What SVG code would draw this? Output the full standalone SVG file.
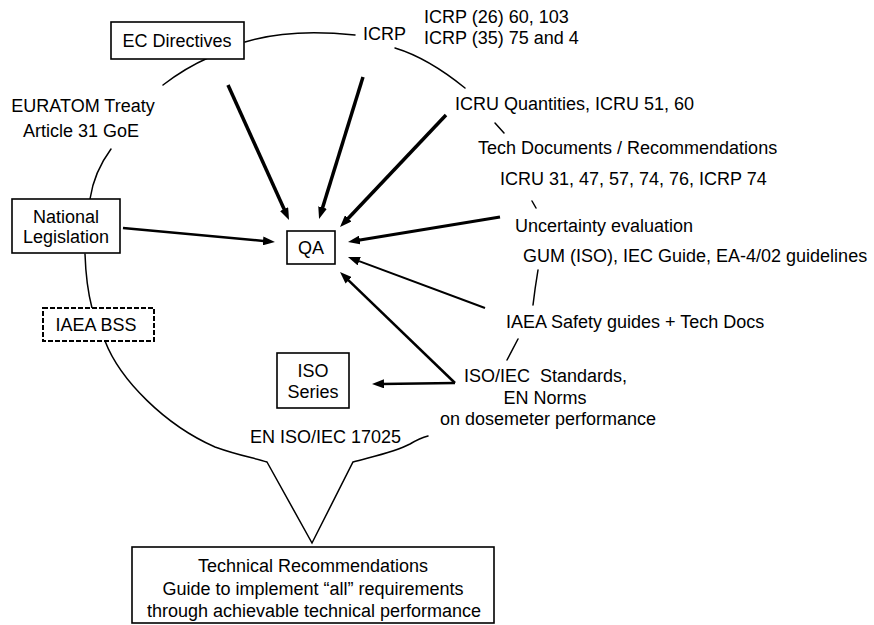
<svg xmlns="http://www.w3.org/2000/svg" width="874" height="625" viewBox="0 0 874 625">
<style>
text{font-family:"Liberation Sans",Arial,sans-serif;font-size:18px;fill:#000}
.c{text-anchor:middle}
.box{fill:#fff;stroke:#000;stroke-width:1.6}
.dash{fill:#fff;stroke:#000;stroke-width:2;stroke-dasharray:5 2}
.arc{fill:none;stroke:#000;stroke-width:1.5;stroke-linecap:round}
.arr{fill:none;stroke:#000;marker-end:url(#ah)}
</style>
<defs>
<marker id="ah" markerUnits="userSpaceOnUse" markerWidth="12" markerHeight="9" refX="3" refY="4.5" orient="auto">
<path d="M0,0 L12,4.5 L0,9 Z" fill="#000"/>
</marker>
</defs>
<rect width="874" height="625" fill="#fff"/>
<g id="connectors">
<path class="arc" d="M245,42 Q290,28 355,35"/>
<path class="arc" d="M395,48 Q428,58 465,88"/>
<path class="arc" d="M210,57 Q185,68 163,85"/>
<path class="arc" d="M111,149 Q94,172 90,199"/>
<path class="arc" d="M85,254 Q86,285 92,308"/>
<path class="arc" d="M105,341 C120,380 165,425 215,447 C240,456 255,458 267,462 L312,543 L353,462 C375,456 395,452 410,444 Q420,438 428,436"/>
<path class="arc" d="M495,123 L504,133"/>
<path class="arc" d="M532,201 L536,208"/>
<path class="arc" d="M538,270 Q535,288 533,305"/>
<path class="arc" d="M518,339 L507,360"/>
<path class="arr" stroke-width="3.5" d="M228,85 L285.3,211.8"/>
<path class="arr" stroke-width="3.5" d="M363,77 L321.7,210.4"/>
<path class="arr" stroke-width="3.5" d="M446,115 L346.2,220.5"/>
<path class="arr" stroke-width="3" d="M500,217 L356.9,240.5"/>
<path class="arr" stroke-width="2" d="M485,308 L356.4,260.1"/>
<path class="arr" stroke-width="2.5" d="M455,383 L346.5,278.3"/>
<path class="arr" stroke-width="2.5" d="M455,383 L381,383.9"/>
<path class="arr" stroke-width="2.5" d="M123,228 L266,241.2"/>
</g>
<g id="ec-directives">
<rect class="box" x="111" y="22" width="133" height="37"/>
<text class="c" x="177" y="47">EC Directives</text>
</g>
<g id="icrp">
<text x="363" y="40">ICRP</text>
</g>
<g id="icrp-refs">
<text x="424" y="23">ICRP (26) 60, 103</text>
<text x="424" y="44">ICRP (35) 75 and 4</text>
</g>
<g id="icru">
<text x="455" y="110">ICRU Quantities, ICRU 51, 60</text>
</g>
<g id="tech-docs">
<text x="478" y="154">Tech Documents / Recommendations</text>
<text x="500" y="185">ICRU 31, 47, 57, 74, 76, ICRP 74</text>
</g>
<g id="uncertainty">
<text x="515" y="232">Uncertainty evaluation</text>
<text x="523" y="262">GUM (ISO), IEC Guide, EA-4/02 guidelines</text>
</g>
<g id="iaea-safety">
<text x="506" y="328">IAEA Safety guides + Tech Docs</text>
</g>
<g id="iso-iec">
<text x="464" y="382" xml:space="preserve">ISO/IEC  Standards,</text>
<text class="c" x="545" y="404">EN Norms</text>
<text class="c" x="548" y="425">on dosemeter performance</text>
</g>
<g id="euratom">
<text class="c" x="83" y="112">EURATOM Treaty</text>
<text class="c" x="81" y="137">Article 31 GoE</text>
</g>
<g id="national-legislation">
<rect class="box" x="12" y="199" width="108" height="54"/>
<text class="c" x="66" y="223">National</text>
<text class="c" x="66" y="243">Legislation</text>
</g>
<g id="iaea-bss">
<rect class="dash" x="43" y="308" width="111" height="33"/>
<text class="c" x="96" y="331">IAEA BSS</text>
</g>
<g id="qa">
<rect class="box" x="287" y="231" width="48" height="33"/>
<text class="c" x="311" y="254">QA</text>
</g>
<g id="iso-series">
<rect class="box" x="277" y="353" width="72" height="55"/>
<text class="c" x="313" y="377">ISO</text>
<text class="c" x="313" y="398">Series</text>
</g>
<g id="en-iso-17025">
<text x="250" y="443">EN ISO/IEC 17025</text>
</g>
<g id="technical-recommendations">
<rect class="box" x="132" y="547" width="362" height="76"/>
<text class="c" x="313" y="572">Technical Recommendations</text>
<text class="c" x="313" y="595">Guide to implement “all” requirements</text>
<text class="c" x="314" y="617">through achievable technical performance</text>
</g>
</svg>
